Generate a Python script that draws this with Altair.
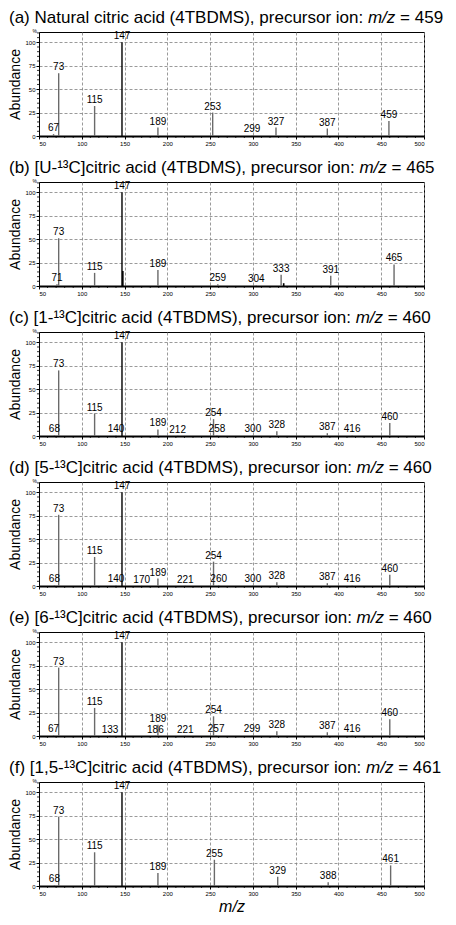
import altair as alt
import pandas as pd

# ---------------- data ----------------
LETTERS = ["(a)", "(b)", "(c)", "(d)", "(e)", "(f)"]
COMPOUNDS = ["Natural citric acid", "[U-¹³C]citric acid", "[1-¹³C]citric acid",
             "[5-¹³C]citric acid", "[6-¹³C]citric acid", "[1,5-¹³C]citric acid"]
PRECURSORS = [459, 465, 460, 460, 460, 461]

A_MZ = [67, 73, 115, 147, 189, 253, 299, 327, 387, 459]
A_AB = [2, 67, 32, 100, 9, 25, 1, 9, 8, 16]
A_UN_MZ = []
A_UN_AB = []

B_MZ = [71, 73, 115, 147, 189, 259, 304, 333, 391, 465]
B_AB = [2, 51, 14, 100, 17, 2, 1, 12, 11, 23]
B_UN_MZ = [148, 336]
B_UN_AB = [16, 3]

C_MZ = [68, 73, 115, 140, 147, 189, 212, 254, 258, 300, 328, 387, 416, 460]
C_AB = [1, 70, 24, 1, 100, 7, 0.5, 18, 1, 1, 5, 3, 1, 14]
C_UN_MZ = []
C_UN_AB = []

D_MZ = [68, 73, 115, 140, 147, 170, 189, 221, 254, 260, 300, 328, 387, 416, 460]
D_AB = [1, 76, 31, 1, 100, 0.5, 8, 0.5, 26, 1, 1, 4, 3, 1, 12]
D_UN_MZ = []
D_UN_AB = []

E_MZ = [67, 73, 115, 133, 147, 186, 189, 221, 254, 257, 299, 328, 387, 416, 460]
E_AB = [1, 73, 30, 0.5, 100, 0.5, 12, 0.5, 21, 1, 1, 5, 4, 1, 18]
E_UN_MZ = []
E_UN_AB = []

F_MZ = [68, 73, 115, 147, 189, 255, 329, 388, 461]
F_AB = [1, 74, 36, 100, 14, 28, 10, 4, 22]
F_UN_MZ = []
F_UN_AB = []

MZ = [A_MZ, B_MZ, C_MZ, D_MZ, E_MZ, F_MZ]
AB = [A_AB, B_AB, C_AB, D_AB, E_AB, F_AB]
UN_MZ = [A_UN_MZ, B_UN_MZ, C_UN_MZ, D_UN_MZ, E_UN_MZ, F_UN_MZ]
UN_AB = [A_UN_AB, B_UN_AB, C_UN_AB, D_UN_AB, E_UN_AB, F_UN_AB]

X_TICKS = list(range(50, 501, 50))
X_MINOR = [v for v in range(50, 501, 10) if v % 50]
Y_TICKS = [0, 25, 50, 75, 100]
Y_MINOR = [v for v in range(5, 111, 5) if v % 25]

# ---------------- layout / style ----------------
FONT = "Liberation Sans"
W, H = 385, 104
TITLE_FS = 17
TITLE_GAP = 9
TITLE_X0 = -30
PITCH = 150

AW = {' ': 278, '(': 333, ')': 333, '[': 278, ']': 278, ',': 278, ':': 278, '-': 333,
      '/': 278, '=': 584, '¹': 333, '³': 333,
      'a': 556, 'b': 556, 'c': 500, 'd': 556, 'e': 556, 'f': 278, 'g': 556, 'h': 556,
      'i': 222, 'j': 222, 'k': 500, 'l': 222, 'm': 833, 'n': 556, 'o': 556, 'p': 556,
      'q': 556, 'r': 333, 's': 500, 't': 278, 'u': 556, 'v': 500, 'w': 722, 'x': 500,
      'y': 500, 'z': 500,
      'A': 667, 'B': 667, 'C': 722, 'D': 722, 'E': 667, 'F': 611, 'G': 778, 'H': 722,
      'I': 278, 'M': 833, 'N': 722, 'O': 778, 'S': 667, 'T': 611, 'U': 722}


def tw(s, fs):
    return sum(AW.get(c, 556) for c in s) * fs / 1000.0


X_SCALE = alt.Scale(domain=[50, 500], nice=False, zero=False)
Y_SCALE = alt.Scale(domain=[0, 111], nice=False)


def panel(i):
    last = i == 5
    peaks = pd.DataFrame({"mz": MZ[i], "ab": AB[i]})
    unl = pd.DataFrame({"mz": UN_MZ[i], "ab": UN_AB[i]})
    xminor = pd.DataFrame({"mz": X_MINOR})
    yminor = pd.DataFrame({"ab": Y_MINOR})

    ax_kw = dict(grid=True, gridDash=[3, 2], gridColor="#808080", gridWidth=0.8,
                 labelFontSize=6, tickSize=3, labelPadding=1, domainColor="black",
                 tickColor="black", titleFontWeight="normal", titleFont=FONT,
                 labelFont=FONT, labelColor="black", titleColor="black")
    if last:
        x_axis = alt.Axis(values=X_TICKS, domainWidth=2, title="m/z", titleFontStyle="italic",
                          titleFontSize=16, titlePadding=2, **ax_kw)
    else:
        x_axis = alt.Axis(values=X_TICKS, domainWidth=2, title="", **ax_kw)
    y_axis = alt.Axis(values=Y_TICKS, title="Abundance", titleFontSize=14, titlePadding=2,
                      **ax_kw)

    XE = alt.X("mz:Q", scale=X_SCALE, axis=x_axis)
    YE = alt.Y("ab:Q", scale=Y_SCALE, axis=y_axis)

    layers = [alt.Chart(peaks).mark_rule(strokeWidth=1.4).encode(
        x=XE, y=YE, y2=alt.datum(0),
        color=alt.condition(alt.datum.ab >= 100, alt.value("black"), alt.value("#6a6a6a")),
    )]
    if len(unl):
        layers.append(alt.Chart(unl).mark_rule(strokeWidth=1.6, color="black").encode(
            x=XE, y=YE, y2=alt.datum(0)))
    layers.append(alt.Chart(peaks).mark_text(baseline="bottom", dy=-1, fontSize=10,
                                             font=FONT, color="black").encode(
        x=XE, y=YE, text=alt.Text("mz:Q", format="d")))
    layers.append(alt.Chart(xminor).mark_rule(color="black", strokeWidth=0.8).encode(
        x=XE, y=alt.value(H), y2=alt.value(H + 2)))
    layers.append(alt.Chart(yminor).mark_rule(color="black", strokeWidth=0.8).encode(
        y=YE, x=alt.value(0), x2=alt.value(-2)))

    # title pieces (normal text + italic m/z)
    prefix = f"{LETTERS[i]} {COMPOUNDS[i]} (4TBDMS), precursor ion:"
    x1 = TITLE_X0 + tw(prefix + " ", TITLE_FS)
    x2 = x1 + tw("m/z ", TITLE_FS)
    for txt, xx, style in [(prefix, TITLE_X0, "normal"), ("m/z", x1, "italic"),
                           (f"= {PRECURSORS[i]}", x2, "normal")]:
        layers.append(alt.Chart(pd.DataFrame({"s": [txt]})).mark_text(
            align="left", baseline="alphabetic", fontSize=TITLE_FS, font=FONT,
            fontStyle=style, color="black").encode(
            x=alt.value(xx), y=alt.value(-TITLE_GAP), text="s:N"))
    layers.append(alt.Chart(pd.DataFrame({"s": ["%"]})).mark_text(
        align="right", baseline="bottom", fontSize=5, font=FONT, color="black").encode(
        x=alt.value(-2), y=alt.value(1.5), text="s:N"))

    return alt.layer(*layers).properties(width=W, height=H)


chart = alt.vconcat(*[panel(i) for i in range(6)], spacing=PITCH - H, bounds="flush"
                    ).properties(padding={"left": 0, "top": 0, "right": 0, "bottom": 0}
                    ).configure_view(stroke="black", strokeWidth=1)

chart.save("out.html", embed_options={"renderer": "svg", "actions": False})
